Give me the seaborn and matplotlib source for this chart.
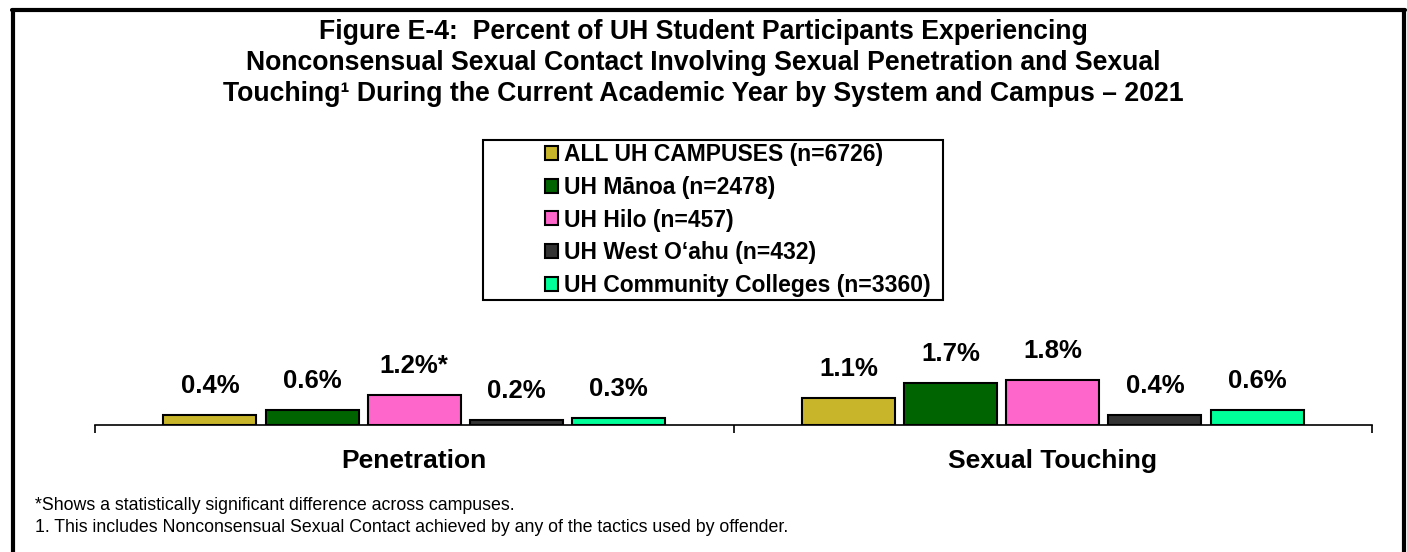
import pandas as pd
import matplotlib
matplotlib.use("Agg")
import matplotlib.pyplot as plt
from matplotlib.patches import Rectangle
from matplotlib.lines import Line2D
import seaborn as sns

# data
contact_types = ["Penetration", "Sexual Touching"]
campuses = [
    "ALL UH CAMPUSES (n=6726)",
    "UH Mānoa (n=2478)",
    "UH Hilo (n=457)",
    "UH West O‘ahu (n=432)",
    "UH Community Colleges (n=3360)",
]
penetration = [0.4, 0.6, 1.2, 0.2, 0.3]
touching = [1.1, 1.7, 1.8, 0.4, 0.6]
significant_pen = [False, False, True, False, False]
significant_touch = [False, False, False, False, False]
colors = ["#C9B52A", "#006400", "#FF66CC", "#333333", "#00FF99"]

FONT = ["Liberation Sans", "DejaVu Sans"]

W, H = 1407, 552


def fx(px):
    return px / W


def fy(py):
    return 1 - py / H


def main():
    sns.set_style("white")
    plt.rcParams["font.family"] = FONT
    plt.rcParams["text.color"] = "black"
    plt.rcParams["xtick.color"] = "black"

    rows = []
    for i, c in enumerate(campuses):
        rows.append({"type": contact_types[0], "campus": c, "pct": penetration[i], "sig": significant_pen[i]})
        rows.append({"type": contact_types[1], "campus": c, "pct": touching[i], "sig": significant_touch[i]})
    df = pd.DataFrame(rows)

    fig = plt.figure(figsize=(W / 100, H / 100), dpi=100)
    ax = fig.add_axes([fx(95), fy(425), fx(1372) - fx(95), (425 - 300) / H])

    sns.barplot(
        data=df, x="type", y="pct", hue="campus", order=contact_types, hue_order=campuses,
        palette=colors, saturation=1, width=0.8, gap=0.09, edgecolor="black", linewidth=1.5, ax=ax,
    )
    handles, labels = ax.get_legend_handles_labels()
    ax.get_legend().remove()

    for container, camp in zip(ax.containers, campuses):
        sub = df[df["campus"] == camp].set_index("type").loc[contact_types]
        texts = [f"{v:.1f}%" + ("*" if s else "") for v, s in zip(sub["pct"], sub["sig"])]
        ax.bar_label(container, labels=texts, padding=12, fontsize=18.5, fontweight="bold", color="black")

    ax.set_ylim(0, 5)
    ax.set_xlim(-0.5, 1.5)
    ax.set_xlabel("")
    ax.set_ylabel("")
    ax.set_yticks([])
    for s in ["left", "right", "top"]:
        ax.spines[s].set_visible(False)
    ax.spines["bottom"].set_linewidth(1.2)
    ax.spines["bottom"].set_color("black")
    ax.set_xticks([-0.5, 0.5, 1.5], minor=True)
    ax.tick_params(axis="x", which="minor", length=6, width=1.2, direction="out", bottom=True, color="black")
    ax.tick_params(axis="x", which="major", length=0, pad=17)
    for t in ax.get_xticklabels():
        t.set_fontsize(19)
        t.set_fontweight("bold")
        t.set_color("black")

    # title
    title_lines = [
        "Figure E-4:  Percent of UH Student Participants Experiencing",
        "Nonconsensual Sexual Contact Involving Sexual Penetration and Sexual",
        "Touching¹ During the Current Academic Year by System and Campus – 2021",
    ]
    for i, line in enumerate(title_lines):
        fig.text(fx(703), fy(32 + 31 * i), line, ha="center", va="center",
                 fontsize=19.2, fontweight="bold", color="black")

    # legend box + entries
    fig.add_artist(Rectangle((fx(483), fy(300)), 460 / W, 160 / H, transform=fig.transFigure,
                             fill=False, edgecolor="black", linewidth=1.5))
    fig.legend(handles, labels, loc="center left", bbox_to_anchor=(fx(534), fy(220)),
               frameon=False, prop={"weight": "bold", "size": 16.5},
               handlelength=0.55, handleheight=0.55, handletextpad=0.25, labelspacing=0.42,
               borderpad=0, labelcolor="black")

    # footnotes
    fig.text(fx(35), fy(506), "*Shows a statistically significant difference across campuses.",
             ha="left", va="center", fontsize=12.8)
    fig.text(fx(35), fy(527), "1. This includes Nonconsensual Sexual Contact achieved by any of the tactics used by offender.",
             ha="left", va="center", fontsize=12.8)

    # frame (top, left, right)
    lw = 3
    fig.add_artist(Line2D([fx(12), fx(1405)], [fy(10), fy(10)], transform=fig.transFigure, color="black", lw=lw))
    fig.add_artist(Line2D([fx(13), fx(13)], [fy(10), fy(552)], transform=fig.transFigure, color="black", lw=lw))
    fig.add_artist(Line2D([fx(1404), fx(1404)], [fy(10), fy(552)], transform=fig.transFigure, color="black", lw=lw))

    fig.savefig("out.png", dpi=100)
    plt.close(fig)


if __name__ == "__main__":
    main()
